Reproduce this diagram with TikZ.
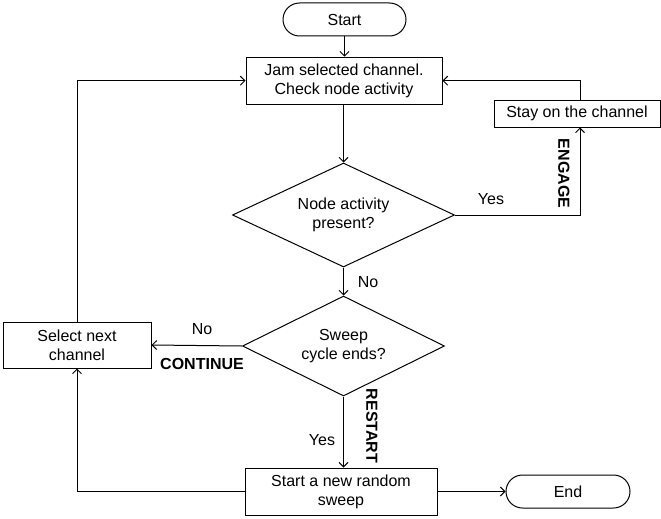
\documentclass[tikz,border=0pt]{standalone}
\usepackage{fontspec}
\setmainfont{Liberation Sans}
\usetikzlibrary{arrows.meta,shapes.geometric,shapes.misc}
\begin{document}
\begin{tikzpicture}[x=1pt,y=-1pt,
  every node/.style={font=\fontsize{16}{19}\selectfont},
  box/.style={draw,line width=1pt,rectangle,inner sep=0pt,align=center},
  term/.style={draw,line width=1pt,rounded rectangle,inner sep=0pt},
  dec/.style={draw,line width=1pt,diamond,inner sep=0pt,aspect=2,align=center},
  lbl/.style={inner sep=0pt},
  blbl/.style={inner sep=0pt,font=\fontsize{16}{19}\selectfont\bfseries},
  conn/.style={line width=1pt,-{Straight Barb[length=4.5pt,width=9pt,line width=1pt]}},
  line/.style={line width=1pt}]
\useasboundingbox (0,0) rectangle (661,519);
\node[term,minimum width=123pt,minimum height=33pt] (start) at (344.5,19.5) {Start};
\node[box,minimum width=196pt,minimum height=47pt] (jam) at (344,80.7) {Jam selected channel.\\Check node activity};
\node[box,minimum width=166pt,minimum height=27pt] (stay) at (577,113.5) {Stay on the channel};
\node[dec,minimum width=222pt,minimum height=104pt] (d1) at (343.5,215) {Node activity\\present?};
\node[dec,minimum width=202pt,minimum height=100pt] (d2) at (343.5,346) {Sweep\\cycle ends?};
\node[box,minimum width=148pt,minimum height=46pt] (sel) at (77,345) {Select next\\channel};
\node[box,minimum width=192pt,minimum height=47pt] (sweep) at (341,491.5) {Start a new random\\sweep};
\node[term,minimum width=124pt,minimum height=33pt] (end) at (568,491.5) {End};
\coordinate (sx) at (580,0);
% connectors
\draw[conn] (start.south) -- (start.south |- jam.north);
\draw[conn] (d1.north |- jam.south) -- (d1.north);
\draw[conn] (d1.south) -- (d2.north);
\draw[conn] (d1.east) -| (sx |- stay.south);
\draw[conn] (sx |- stay.north) |- (jam.east);
\draw[conn] (sel.north) |- (jam.west);
\draw[conn] (d2.west) -- (sel.east);
\draw[conn] (d2.south) -- (d2.south |- sweep.north);
\draw[conn] (sweep.west) -| (sel.south);
\draw[conn] (sweep.east) -- (end.west);
% labels
\node[lbl] (ly1) at (491,199) {Yes};
\node[blbl,rotate=-90] (leng) at (564,173.5) {ENGAGE};
\node[lbl] (ln1) at (368,282) {No};
\node[lbl] (ln2) at (202,329) {No};
\node[blbl] (lcont) at (202,364) {CONTINUE};
\node[lbl] (ly2) at (322,440) {Yes};
\node[blbl,rotate=-90] (lrest) at (372,426) {RESTART};
\end{tikzpicture}
\end{document}
